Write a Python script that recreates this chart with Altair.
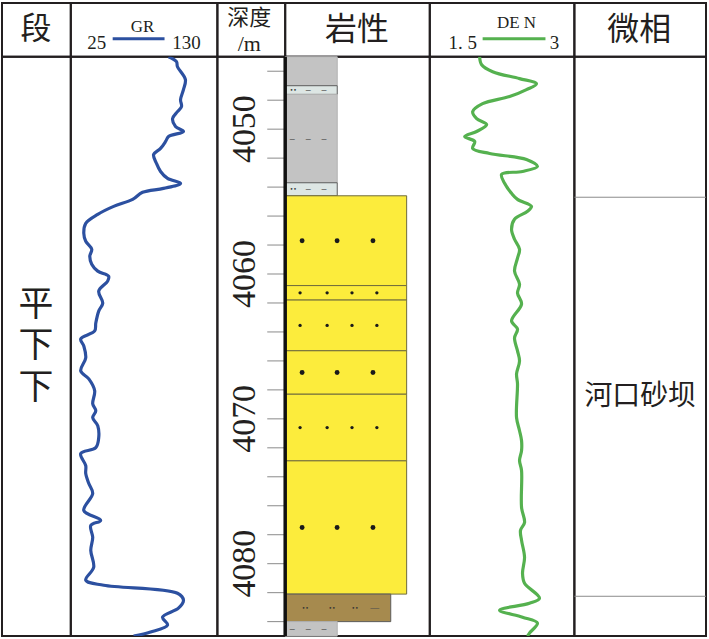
import altair as alt
import pandas as pd

# ---------------------------------------------------------------- styling
INK = "#231f20"
GR_COLOR = "#2c50a0"
DEN_COLOR = "#55b14f"
CJK = "Noto Sans CJK SC"
SERIF = "Liberation Serif"

# ---------------------------------------------------------------- data
DEPTH_RANGE = [4045, 4085]          # section shown, m
GR_RANGE = [25, 130]                # API
DEN_RANGE = [1.5, 3]                # g/cm3

gr_depth = [
    4045.0, 4045.34, 4045.69, 4046.58, 4047.27, 4047.96, 4048.44, 4048.79, 4049.27, 4049.82,
    4050.16, 4050.51, 4050.85, 4051.33, 4051.75, 4052.37, 4052.92, 4053.40, 4053.74, 4054.09,
    4054.36, 4054.85, 4055.33, 4055.88, 4056.50, 4057.19, 4057.74, 4058.29, 4058.77, 4059.32,
    4059.80, 4060.15, 4060.49, 4061.18, 4062.01, 4062.56, 4063.38, 4063.93, 4064.48, 4064.97,
    4065.79, 4066.69, 4067.24, 4068.06, 4068.96, 4069.44, 4069.92, 4070.47, 4071.30, 4071.99,
    4072.40, 4073.23, 4073.78, 4074.47, 4075.15, 4076.33, 4077.01, 4077.36, 4078.18, 4079.08,
    4080.25, 4081.14, 4081.49, 4082.04, 4082.52, 4083.07, 4083.69, 4084.24, 4084.72, 4085.0,
]
gr_value = [
    95.0, 100.7, 101.4, 107.1, 105.7, 103.6, 104.3, 101.4, 97.9, 100.0,
    105.7, 95.0, 92.9, 89.3, 84.3, 86.4, 89.3, 94.3, 103.6, 91.4,
    76.4, 69.3, 55.7, 44.3, 35.7, 34.3, 35.7, 40.0, 38.6, 40.0,
    44.3, 52.1, 51.4, 45.0, 47.9, 45.0, 42.9, 42.1, 32.1, 34.3,
    35.7, 32.1, 37.9, 42.1, 40.7, 42.9, 40.7, 44.3, 45.0, 42.9,
    32.1, 35.7, 35.7, 37.9, 40.7, 34.3, 46.4, 39.3, 40.7, 39.3,
    41.4, 35.7, 48.6, 101.4, 105.7, 102.1, 90.7, 94.3, 82.1, 70.0,
]

den_depth = [
    4045.0, 4045.55, 4046.03, 4046.51, 4046.86, 4047.27, 4047.75, 4048.24, 4048.79, 4049.27,
    4049.68, 4050.16, 4050.51, 4050.85, 4051.33, 4051.68, 4052.09, 4052.57, 4052.92, 4053.12,
    4053.74, 4054.43, 4054.85, 4055.33, 4055.67, 4056.22, 4056.91, 4057.60, 4058.29, 4058.91,
    4059.80, 4060.70, 4061.32, 4062.07, 4063.24, 4063.80, 4064.41, 4065.31, 4066.00, 4066.89,
    4067.58, 4069.92, 4070.82, 4071.51, 4072.19, 4072.88, 4073.57, 4076.12, 4077.15, 4077.70,
    4078.39, 4079.56, 4080.66, 4081.35, 4082.38, 4082.73, 4083.21, 4083.69, 4084.10, 4084.79,
    4085.0,
]
den_value = [
    2.017, 2.038, 2.152, 2.431, 2.607, 2.503, 2.328, 2.048, 1.945, 1.986,
    2.090, 1.986, 1.862, 1.966, 1.945, 2.121, 2.503, 2.617, 2.462, 2.245,
    2.276, 2.348, 2.410, 2.555, 2.514, 2.379, 2.348, 2.379, 2.431, 2.410,
    2.379, 2.431, 2.410, 2.452, 2.348, 2.410, 2.379, 2.410, 2.431, 2.400,
    2.410, 2.400, 2.431, 2.452, 2.452, 2.431, 2.452, 2.452, 2.483, 2.441,
    2.452, 2.483, 2.462, 2.483, 2.638, 2.534, 2.224, 2.462, 2.617, 2.534,
    2.514,
]

# lithology column
lith_top = [4045.0, 4047.0, 4047.6, 4053.7, 4054.6, 4060.8, 4061.8, 4065.3, 4068.3, 4072.9, 4082.1, 4084.0]
lith_base = [4047.0, 4047.6, 4053.7, 4054.6, 4060.8, 4061.8, 4065.3, 4068.3, 4072.9, 4082.1, 4084.0, 4085.0]
lith_kind = ["泥岩", "粉砂质泥岩", "泥岩", "粉砂质泥岩", "中砂岩", "细砂岩",
             "细砂岩", "中砂岩", "细砂岩", "中砂岩", "泥质粉砂岩", "泥岩"]
lith_patterned = [False, True, True, True, True, True, True, True, True, True, True, True]

# depth track
depth_ticks = list(range(4046, 4085, 2))
depth_labels = [4050, 4060, 4070, 4080]

# stratigraphic unit and microfacies
seg_name = ["平下下"]
seg_top = [4045.0]
seg_base = [4085.0]
facies_name = ["河口砂坝"]
facies_top = [4054.7]
facies_base = [4082.25]

# ---------------------------------------------------------------- lithology symbology
KINDS = ["泥岩", "粉砂质泥岩", "中砂岩", "细砂岩", "泥质粉砂岩"]
KIND_WIDTH = {"泥岩": 3.6, "粉砂质泥岩": 3.6, "中砂岩": 8.4, "细砂岩": 8.4, "泥质粉砂岩": 7.3}
KIND_FILL = ["#c3c3c3", "#dde6e4", "#fcec3c", "#fcec3c", "#a68a4e"]
KIND_EDGE = ["#b5b5b5", "#5c5c5c", "#6e6a3c", "#6e6a3c", "#5c5c5c"]
# glyph rows inside a bed: (glyph, position across the column)
KIND_GLYPHS = {
    "泥岩": [("–", 0.48), ("–", 1.59), ("–", 2.69)],
    "粉砂质泥岩": [("••", 0.55), ("–", 1.59), ("–", 2.69)],
    "泥质粉砂岩": [("••", 1.38), ("••", 3.24), ("••", 4.83), ("—", 6.2)],
}
KIND_DOTS = {"中砂岩": [1.17, 3.59, 6.07], "细砂岩": [1.03, 2.9, 4.62, 6.34]}

lith_df = pd.DataFrame({"top": lith_top, "base": lith_base, "kind": lith_kind})
lith_df["w"] = lith_df["kind"].map(KIND_WIDTH)
lith_df["x0"] = 0.0

dot_rows, glyph_rows = [], []
for t, b, k, p in zip(lith_top, lith_base, lith_kind, lith_patterned):
    if not p:
        continue
    mid = (t + b) / 2
    for x in KIND_DOTS.get(k, []):
        dot_rows.append({"depth": mid, "x": x, "kind": k})
    for g, x in KIND_GLYPHS.get(k, []):
        glyph_rows.append({"depth": mid, "x": x, "glyph": g, "dot": g == "••"})
dot_df = pd.DataFrame(dot_rows)
glyph_df = pd.DataFrame(glyph_rows)
edge_df = pd.DataFrame({"x0": [0.0], "top": [DEPTH_RANGE[0]], "base": [DEPTH_RANGE[1]]})

# ---------------------------------------------------------------- layout
W_SEG, W_GR, W_DEPTH, W_LITH, W_DEN, W_FAC = 69, 147, 68, 145, 145, 132
H_HEAD, H_BODY = 54, 581

depth_scale = alt.Scale(domain=DEPTH_RANGE, reverse=True, nice=False, zero=False)


def ydepth(field):
    return alt.Y(field, type="quantitative", scale=depth_scale, axis=None)


one = pd.DataFrame({"k": [0]})


def head_text(text, x, y, size, font=CJK, baseline="middle"):
    return alt.Chart(one).mark_text(
        text=text, font=font, fontSize=size, color=INK, baseline=baseline, align="center"
    ).encode(x=alt.value(x), y=alt.value(y))


def head_line(x1, x2, y, color):
    return alt.Chart(one).mark_rule(color=color, strokeWidth=3).encode(
        x=alt.value(x1), x2=alt.value(x2), y=alt.value(y))


# ---------------------------------------------------------------- header row
h_seg = head_text("段", 34, 27, 31).properties(width=W_SEG, height=H_HEAD)
h_gr = alt.layer(
    head_text("GR", 72, 29.5, 17, SERIF, "alphabetic"),
    head_text("25", 26, 46, 19, SERIF, "alphabetic"),
    head_text("130", 116, 46, 19, SERIF, "alphabetic"),
    head_line(42, 94, 36, GR_COLOR),
).properties(width=W_GR, height=H_HEAD)
h_depth = alt.layer(
    head_text("深度", 32, 15, 22),
    head_text("/m", 32, 48, 22, SERIF, "alphabetic"),
).properties(width=W_DEPTH, height=H_HEAD)
h_lith = head_text("岩性", 72, 27, 32).properties(width=W_LITH, height=H_HEAD)
h_den = alt.layer(
    head_text("DE N", 87, 25.5, 17, SERIF, "alphabetic"),
    head_text("1. 5", 33, 46, 19, SERIF, "alphabetic"),
    head_text("3", 125, 46, 19, SERIF, "alphabetic"),
    head_line(53, 116, 36, DEN_COLOR),
).properties(width=W_DEN, height=H_HEAD)
h_fac = head_text("微相", 65, 27, 32).properties(width=W_FAC, height=H_HEAD)

# ---------------------------------------------------------------- body row
SEG_LINE = 42
seg_df = pd.DataFrame({"name": ["\n".join(s) for s in seg_name], "top": seg_top, "base": seg_base})
b_seg = alt.Chart(seg_df).transform_calculate(
    mid="(datum.top + datum.base) / 2"
).mark_text(
    font=CJK, fontSize=35, lineHeight=SEG_LINE, lineBreak="\n", color=INK,
    baseline="middle", dy=-SEG_LINE,
).encode(
    x=alt.value(34), y=ydepth("mid"), text="name:N"
).properties(width=W_SEG, height=H_BODY)

gr_df = pd.DataFrame({"depth": gr_depth, "gr": gr_value})
b_gr = alt.Chart(gr_df).mark_line(
    color=GR_COLOR, strokeWidth=3.2, interpolate="catmull-rom", clip=True
).encode(
    x=alt.X("gr:Q", scale=alt.Scale(domain=GR_RANGE, nice=False, zero=False), axis=None),
    y=ydepth("depth"),
    order="depth:Q",
).properties(width=W_GR, height=H_BODY)

tick_df = pd.DataFrame({"depth": depth_ticks})
lab_df = pd.DataFrame({"depth": depth_labels, "label": [str(d) for d in depth_labels]})
b_depth = alt.layer(
    alt.Chart(tick_df).mark_rule(color="#8a8a8a", strokeWidth=1).encode(
        y=ydepth("depth"), x=alt.value(50), x2=alt.value(W_DEPTH)),
    alt.Chart(lab_df).mark_text(
        angle=270, font=SERIF, fontSize=34, color=INK, align="center", baseline="middle"
    ).encode(y=ydepth("depth"), x=alt.value(28), text="label:N"),
).properties(width=W_DEPTH, height=H_BODY)

lith_x = alt.Scale(domain=[0, 10], nice=False, zero=False)
b_lith = alt.layer(
    alt.Chart(lith_df).mark_rect(strokeWidth=1).encode(
        x=alt.X("x0:Q", scale=lith_x, axis=None),
        x2="w:Q",
        y=ydepth("top"),
        y2="base:Q",
        fill=alt.Fill("kind:N", scale=alt.Scale(domain=KINDS, range=KIND_FILL), legend=None),
        stroke=alt.Stroke("kind:N", scale=alt.Scale(domain=KINDS, range=KIND_EDGE), legend=None),
    ),
    alt.Chart(dot_df).mark_circle(color="#1a1a1a", opacity=1).encode(
        x=alt.X("x:Q", scale=lith_x, axis=None),
        y=ydepth("depth"),
        size=alt.Size("kind:N", scale=alt.Scale(domain=["中砂岩", "细砂岩"], range=[24, 11]),
                      legend=None),
    ),
    alt.Chart(glyph_df).transform_filter("!datum.dot").mark_text(
        font="Liberation Sans", fontSize=9, color="#4d4d4d", baseline="middle"
    ).encode(x=alt.X("x:Q", scale=lith_x, axis=None), y=ydepth("depth"), text="glyph:N"),
    alt.Chart(glyph_df).transform_filter("datum.dot").mark_text(
        font="DejaVu Sans", fontSize=6, color="#333333", baseline="middle"
    ).encode(x=alt.X("x:Q", scale=lith_x, axis=None), y=ydepth("depth"), text="glyph:N"),
    alt.Chart(edge_df).mark_rule(color="#111111", strokeWidth=3.5).encode(
        x=alt.X("x0:Q", scale=lith_x, axis=None),
        y=ydepth("top"),
        y2="base:Q",
    ),
).properties(width=W_LITH, height=H_BODY)

den_df = pd.DataFrame({"depth": den_depth, "den": den_value})
b_den = alt.Chart(den_df).mark_line(
    color=DEN_COLOR, strokeWidth=3.2, interpolate="catmull-rom", clip=True
).encode(
    x=alt.X("den:Q", scale=alt.Scale(domain=DEN_RANGE, nice=False, zero=False), axis=None),
    y=ydepth("depth"),
    order="depth:Q",
).properties(width=W_DEN, height=H_BODY)

fac_df = pd.DataFrame({"name": facies_name, "top": facies_top, "base": facies_base})
fac_edges = pd.DataFrame({"depth": facies_top + facies_base})
b_fac = alt.layer(
    alt.Chart(fac_edges).mark_rule(color="#8c8c8c", strokeWidth=1).encode(
        y=ydepth("depth"), x=alt.value(0), x2=alt.value(W_FAC)),
    alt.Chart(fac_df).transform_calculate(mid="(datum.top + datum.base) / 2").mark_text(
        font=CJK, fontSize=28, color=INK, baseline="middle"
    ).encode(y=ydepth("mid"), x=alt.value(66), text="name:N"),
).properties(width=W_FAC, height=H_BODY)

# one grid: header cells on the first row, log tracks on the second
chart = alt.concat(
    h_seg, h_gr, h_depth, h_lith, h_den, h_fac,
    b_seg, b_gr, b_depth, b_lith, b_den, b_fac,
    columns=6, spacing=0, bounds="flush",
).properties(
    padding={"left": 1, "top": 1, "right": 1, "bottom": 1},
    background="white",
).configure_view(stroke=INK, strokeWidth=2).configure_concat(spacing=0)

chart.save("out.html", embed_options={"renderer": "svg", "actions": False})
